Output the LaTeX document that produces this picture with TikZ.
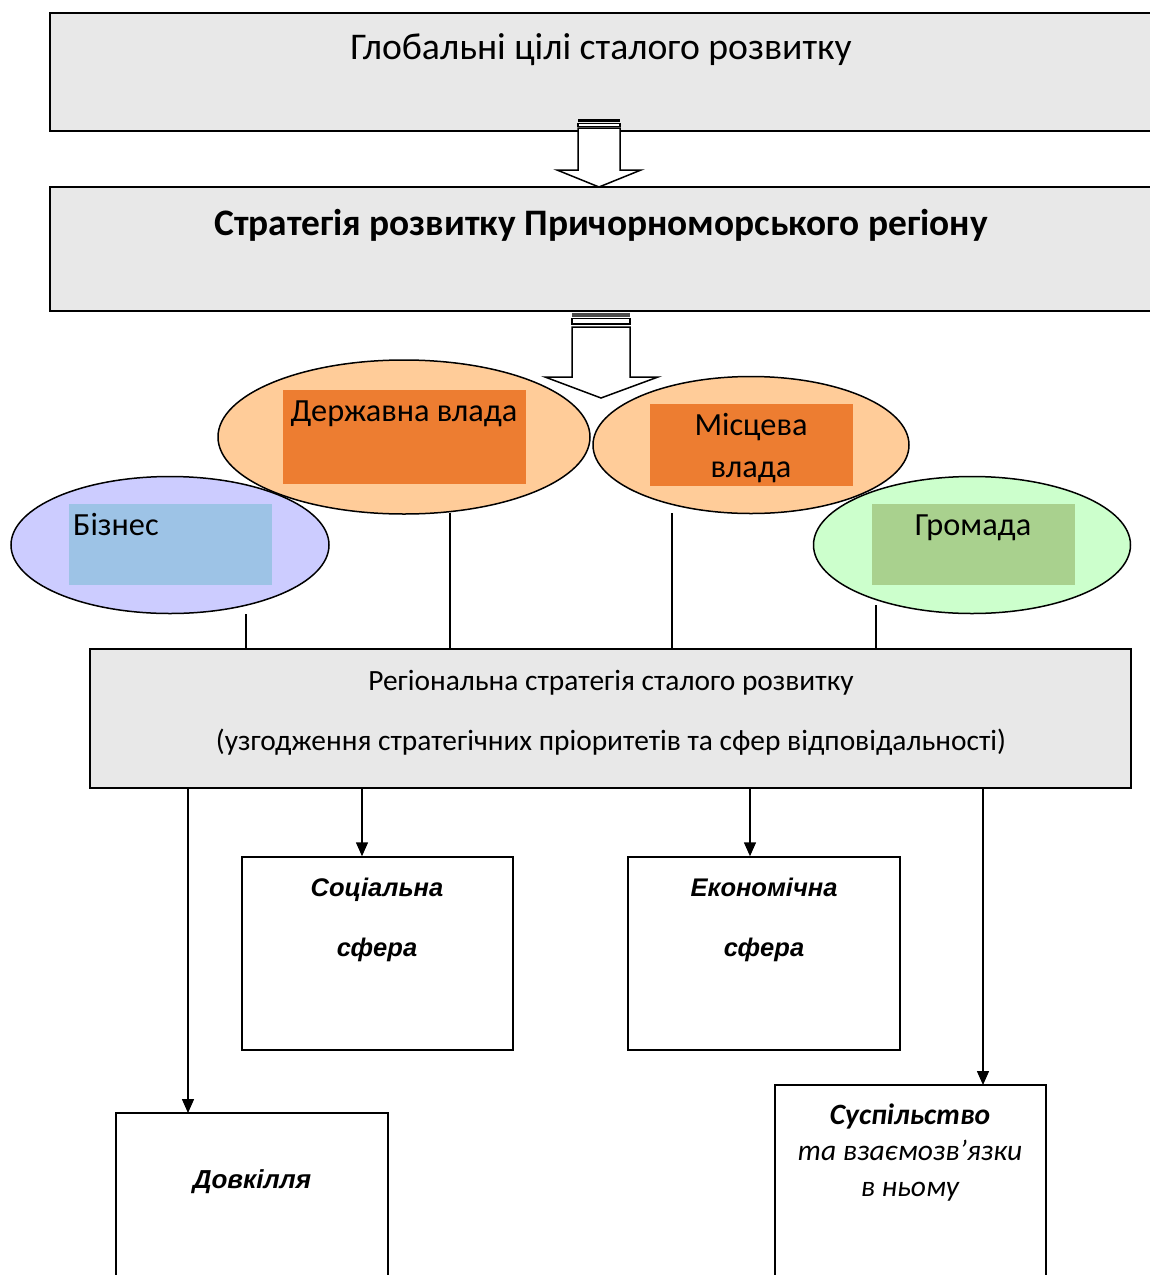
\documentclass[tikz,border=0pt]{standalone}
\usepackage{fontspec}
\setmainfont{Carlito}
\newfontfamily\arialf{Liberation Sans}
\usetikzlibrary{shapes.geometric,arrows.meta}
\definecolor{boxgray}{HTML}{E8E8E8}
\definecolor{peach}{HTML}{FFCC99}
\definecolor{orangebox}{HTML}{ED7D31}
\definecolor{lilac}{HTML}{CCCCFF}
\definecolor{bluebox}{HTML}{9DC3E6}
\definecolor{mint}{HTML}{CCFFCC}
\definecolor{greenbox}{HTML}{A9D18E}
\begin{document}
\begin{tikzpicture}[x=1pt,y=-1pt,
  graybox/.style={draw=black,line width=1.5pt,fill=boxgray},
  whitebox/.style={draw=black,line width=1.5pt,fill=white},
  ell/.style={ellipse,draw=black,line width=1.5pt,inner sep=0pt},
  txt/.style={inner sep=0pt,text height=0.7em,text depth=0.2em},
  conn/.style={line width=1.5pt},
  arr/.style={line width=1.5pt,-{Triangle[width=12pt,length=14pt]}},
  hollow/.style={draw=black,line width=1.5pt,fill=white}]
\useasboundingbox (0,0) rectangle (1150,1275);
\fill[white] (0,0) rectangle (1150,1275);

% top boxes
\draw[graybox] (1152,13) -- (50,13) -- (50,131) -- (1152,131);
\node[txt,font=\fontsize{37.7}{42}\selectfont] (glob) at (601,57) {Глобальні цілі сталого розвитку};
\draw[graybox] (1152,187) -- (50,187) -- (50,311) -- (1152,311);
\node[txt,font=\fontsize{37.4}{42}\selectfont\bfseries] (strat) at (601,233) {Стратегія розвитку Причорноморського регіону};

% hollow arrow 1
\fill[black] (578,119) rectangle (620,122);
\draw[hollow,line width=1.2pt] (578,123.5) rectangle (620,126.5);
\draw[hollow] (578,128) -- (620,128) -- (620,170) -- (641,170) -- (599,187) -- (557,170) -- (578,170) -- cycle;

% ellipses
\node[ell,fill=peach,minimum width=372,minimum height=154] (derzhE) at (404,437) {};
\fill[orangebox] (283,390) rectangle (526,484);
\node[txt,font=\fontsize{32.3}{36}\selectfont] (derzh) at (404,419) {Державна влада};

\node[ell,fill=peach,minimum width=316,minimum height=137] (mistsE) at (751,445) {};
\fill[orangebox] (650,404) rectangle (853,486);
\node[txt,font=\fontsize{32.3}{36}\selectfont] (mists1) at (751,433) {Місцева};
\node[txt,font=\fontsize{32.3}{36}\selectfont] (mists2) at (751,475) {влада};

% hollow arrow 2
\fill[black!70] (572,313) rectangle (630,316.5);
\draw[hollow,line width=1.2pt] (572,318.5) rectangle (630,324);
\draw[hollow] (572,327) -- (630,327) -- (630,377) -- (658,377) -- (601,398) -- (545,377) -- (572,377) -- cycle;

\node[ell,fill=lilac,minimum width=318,minimum height=137] (bizE) at (170,545) {};
\fill[bluebox] (69,504) rectangle (272,585);
\node[txt,font=\fontsize{32.3}{36}\selectfont,anchor=west] (biz) at (73,533) {Бізнес};

\node[ell,fill=mint,minimum width=317,minimum height=137] (gromE) at (972,545) {};
\fill[greenbox] (872,504) rectangle (1075,585);
\node[txt,font=\fontsize{32.3}{36}\selectfont] (grom) at (973,533) {Громада};

% regional box
\node[graybox,minimum width=1041,minimum height=139,inner sep=0pt] (reg) at (610.5,718.5) {};
\node[txt,font=\fontsize{29.4}{34}\selectfont] (reg1) at (611,688) {Регіональна стратегія сталого розвитку};
\node[txt,font=\fontsize{29.4}{34}\selectfont] (reg2) at (611,748) {(узгодження стратегічних пріоритетів та сфер відповідальності)};

% vertical connectors from ellipses
\coordinate (c1) at (246,614);
\coordinate (c2) at (450,513);
\coordinate (c3) at (672,513);
\coordinate (c4) at (876,605);
\draw[conn] (c1) -- (c1 |- reg.north);
\draw[conn] (c2) -- (c2 |- reg.north);
\draw[conn] (c3) -- (c3 |- reg.north);
\draw[conn] (c4) -- (c4 |- reg.north);

% lower boxes
\node[whitebox,minimum width=271,minimum height=193,inner sep=0pt] (soc) at (377.5,953.5) {};
\node[txt,font=\arialf\fontsize{25.5}{30}\selectfont\bfseries\itshape] (soc1) at (377,894) {Соціальна};
\node[txt,font=\arialf\fontsize{25.5}{30}\selectfont\bfseries\itshape] (soc2) at (377,954) {сфера};

\node[whitebox,minimum width=272,minimum height=193,inner sep=0pt] (eco) at (764,953.5) {};
\node[txt,font=\arialf\fontsize{25.5}{30}\selectfont\bfseries\itshape] (eco1) at (764,894) {Економічна};
\node[txt,font=\arialf\fontsize{25.5}{30}\selectfont\bfseries\itshape] (eco2) at (764,954) {сфера};

\draw[whitebox] (116,1285) -- (116,1113) -- (388,1113) -- (388,1285);
\coordinate (dovtop) at (188,1113);
\node[txt,font=\arialf\fontsize{26}{30}\selectfont\bfseries\itshape] (dov) at (252,1186) {Довкілля};

\draw[whitebox] (775,1285) -- (775,1085) -- (1046,1085) -- (1046,1285);
\coordinate (susptop) at (983,1085);
\node[txt,font=\fontsize{29.5}{34}\selectfont\bfseries\itshape] (sus1) at (910,1122) {Суспільство};
\node[txt,font=\fontsize{29.5}{34}\selectfont\itshape] (sus2) at (910,1158) {та взаємозв’язки};
\node[txt,font=\fontsize{29.5}{34}\selectfont\itshape] (sus3) at (910,1194) {в ньому};

% arrows from regional box
\draw[arr] (reg.south -| dovtop) -- (dovtop);
\draw[arr] (reg.south -| 362,0) -- (soc.north -| 362,0);
\draw[arr] (reg.south -| 750,0) -- (eco.north -| 750,0);
\draw[arr] (reg.south -| susptop) -- (susptop);
\end{tikzpicture}
\end{document}
